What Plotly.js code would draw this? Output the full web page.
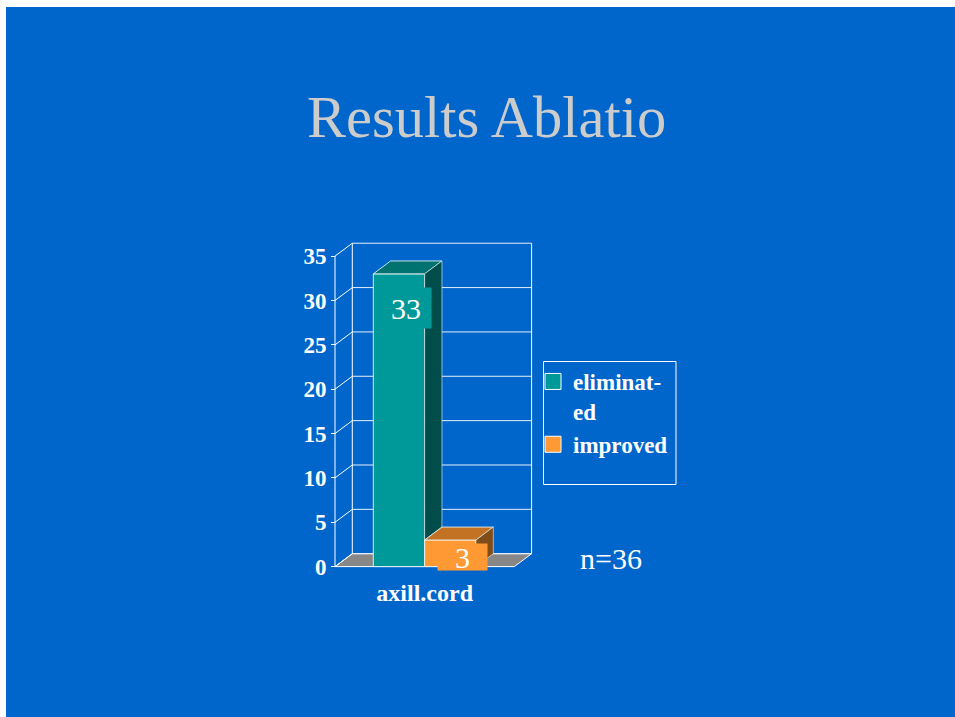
<!DOCTYPE html>
<html>
<head>
<meta charset="utf-8">
<script src="https://cdn.plot.ly/plotly-3.0.1.min.js"></script>
<style>html,body{margin:0;padding:0;background:#fff;}#chart{width:955px;height:717px;}</style>
</head>
<body>
<div id="chart"></div>
<script>
// ---- data ----
var categories = ['axill.cord'];
var seriesNames = ['eliminat-<br>ed', 'improved'];
var eliminatedValues = [33];
var improvedValues = [3];
var yTickValues = [0, 5, 10, 15, 20, 25, 30, 35];
var titleText = 'Results Ablatio';
var noteText = 'n=36';

// ---- styles ----
var W = 955, H = 717;
var FONT = 'Liberation Serif, Times New Roman, serif';
var frontColors = ['#009999', '#FF9933'];
var topColors = ['#007370', '#C27222'];
var sideColors = ['#004D4B', '#804C18'];
var barWidth = 0.2864;      // in category units
var depthX = 0.0965;        // 3D depth in x units
var depthY = 1.454;         // 3D depth in y units
var labelShift = [{x: 6.6, y: -13.5, w: 50, h: 40}, {x: 11.8, y: -3.3, w: 49, h: 26}];

var allValues = [eliminatedValues, improvedValues];
var nS = allValues.length;
var catX = categories.map(function (c, i) { return i; });

var traces = [];
// front faces as real bar traces
allValues.forEach(function (vals, k) {
  traces.push({
    type: 'bar', x: catX, y: vals, name: seriesNames[k], showlegend: false,
    width: barWidth, offset: (k - nS / 2) * barWidth,
    marker: {color: frontColors[k], line: {color: 'rgba(235,245,245,0.9)', width: 1}},
    hoverinfo: 'skip'
  });
});
// top and side faces (3D look) built from values
allValues.forEach(function (vals, k) {
  vals.forEach(function (v, i) {
    var x0 = catX[i] + (k - nS / 2) * barWidth, x1 = x0 + barWidth;
    traces.push({
      type: 'scatter', mode: 'lines', fill: 'toself', fillcolor: topColors[k],
      x: [x0, x1, x1 + depthX, x0 + depthX, x0], y: [v, v, v + depthY, v + depthY, v],
      line: {color: 'rgba(235,245,245,0.85)', width: 1}, showlegend: false, hoverinfo: 'skip'
    });
    var base = (k < nS - 1) ? Math.min(allValues[k + 1][i], v) : 0;
    traces.push({
      type: 'scatter', mode: 'lines', fill: 'toself', fillcolor: sideColors[k],
      x: [x1, x1 + depthX, x1 + depthX, x1, x1], y: [base, base + depthY, v + depthY, v, base],
      line: {color: 'rgba(235,245,245,0.6)', width: 1}, showlegend: false, hoverinfo: 'skip'
    });
  });
});
// legend entries (square swatches)
allValues.forEach(function (vals, k) {
  traces.push({
    type: 'scatter', mode: 'markers', x: [null], y: [null], name: seriesNames[k],
    marker: {symbol: 'square', size: 16, color: frontColors[k], line: {color: '#FFFFFF', width: 1}},
    hoverinfo: 'skip'
  });
});

// ---- frame of the 3D box (shapes in data coords, below traces) ----
var fl = -0.5, fr = catX.length - 0.5;
var yTop = yTickValues[yTickValues.length - 1];
var shapes = [];
// slide background
shapes.push({type: 'rect', xref: 'paper', yref: 'paper', x0: 6 / W, x1: 1, y0: 0, y1: 1 - 7 / H,
  fillcolor: '#0066CC', line: {width: 0}, layer: 'below'});
var wallLine = {color: '#FFFFFF', width: 1};
// floor
shapes.push({type: 'path', xref: 'x', yref: 'y', layer: 'below',
  path: 'M' + fl + ',0 L' + fr + ',0 L' + (fr + depthX) + ',' + depthY + ' L' + (fl + depthX) + ',' + depthY + ' Z',
  fillcolor: '#878787', line: wallLine});
// back-wall gridlines and side-wall diagonals
yTickValues.forEach(function (v) {
  shapes.push({type: 'line', xref: 'x', yref: 'y', layer: 'below',
    x0: fl + depthX, x1: fr + depthX, y0: v + depthY, y1: v + depthY, line: {color: '#E8EEF8', width: 1}});
  shapes.push({type: 'line', xref: 'x', yref: 'y', layer: 'below',
    x0: fl, x1: fl + depthX, y0: v, y1: v + depthY, line: wallLine});
});
// back wall vertical edges
shapes.push({type: 'line', xref: 'x', yref: 'y', layer: 'below', x0: fl + depthX, x1: fl + depthX, y0: depthY, y1: yTop + depthY, line: wallLine});
shapes.push({type: 'line', xref: 'x', yref: 'y', layer: 'below', x0: fr + depthX, x1: fr + depthX, y0: depthY, y1: yTop + depthY, line: wallLine});
// front value axis line
shapes.push({type: 'line', xref: 'x', yref: 'y', layer: 'below', x0: fl, x1: fl, y0: 0, y1: yTop, line: wallLine});
// legend border
shapes.push({type: 'rect', xref: 'paper', yref: 'paper', x0: 543.5 / W, x1: 676 / W, y0: 1 - 484.5 / H, y1: 1 - 361.5 / H,
  fillcolor: 'rgba(0,0,0,0)', line: {color: '#FFFFFF', width: 1}, layer: 'above'});

// ---- annotations ----
var annotations = [];
annotations.push({xref: 'paper', yref: 'paper', x: 486.3 / W, y: 1 - 118 / H, xanchor: 'center', yanchor: 'middle',
  text: titleText, showarrow: false, font: {family: FONT, size: 58.5, color: '#CCCCCC'}});
annotations.push({xref: 'paper', yref: 'paper', x: 610.5 / W, y: 1 - 558 / H, xanchor: 'center', yanchor: 'middle',
  text: noteText, showarrow: false, font: {family: FONT, size: 30, color: '#FFFFFF'}});
allValues.forEach(function (vals, k) {
  vals.forEach(function (v, i) {
    var xc = catX[i] + (k - nS / 2) * barWidth + barWidth / 2;
    annotations.push({xref: 'x', yref: 'y', x: xc, y: v, xanchor: 'center', yanchor: 'top',
      xshift: labelShift[k].x, yshift: labelShift[k].y, width: labelShift[k].w, height: labelShift[k].h,
      valign: 'middle', align: 'center', bgcolor: frontColors[k], borderpad: 0,
      text: String(v), showarrow: false, font: {family: FONT, size: 30, color: '#FFFFFF'}});
  });
});

// ---- axes geometry (pixels -> domains) ----
var plotLeft = 333, plotRight = 534, plotTop = 241, plotBottom = 569;
var catCenterPx = 424.65, pxPerCat = 179.3;
var zeroPx = 566.6, pxPerUnit = 8.871;

var layout = {
  width: W, height: H, autosize: false,
  margin: {l: 0, r: 0, t: 0, b: 0, pad: 0},
  paper_bgcolor: '#FFFFFF', plot_bgcolor: 'rgba(0,0,0,0)',
  barmode: 'overlay', showlegend: true,
  xaxis: {
    domain: [plotLeft / W, plotRight / W],
    range: [(plotLeft - catCenterPx) / pxPerCat, (plotRight - catCenterPx) / pxPerCat],
    tickvals: catX, ticktext: categories, ticks: '', showgrid: false, zeroline: false, showline: false,
    ticklabelstandoff: 7,
    tickfont: {family: FONT, size: 24, color: '#FFFFFF', weight: 'bold'}, fixedrange: true
  },
  yaxis: {
    domain: [1 - plotBottom / H, 1 - plotTop / H],
    range: [-(plotBottom - zeroPx) / pxPerUnit, (zeroPx - plotTop) / pxPerUnit],
    anchor: 'free', position: 335 / W,
    tickvals: yTickValues, ticks: 'outside', ticklen: 4, tickwidth: 1, tickcolor: '#FFFFFF',
    showgrid: false, zeroline: false, showline: false,
    tickfont: {family: FONT, size: 23, color: '#FFFFFF', weight: 'bold'}, fixedrange: true
  },
  legend: {
    x: 533 / W, xanchor: 'left', y: 1 - 360 / H, yanchor: 'top', valign: 'top',
    bgcolor: 'rgba(0,0,0,0)', borderwidth: 0,
    font: {family: FONT, size: 23, color: '#FFFFFF', weight: 'bold'},
    traceorder: 'normal', itemclick: false, itemdoubleclick: false
  },
  shapes: shapes,
  annotations: annotations
};

Plotly.newPlot('chart', traces, layout, {displayModeBar: false, staticPlot: true});
</script>
</body>
</html>
